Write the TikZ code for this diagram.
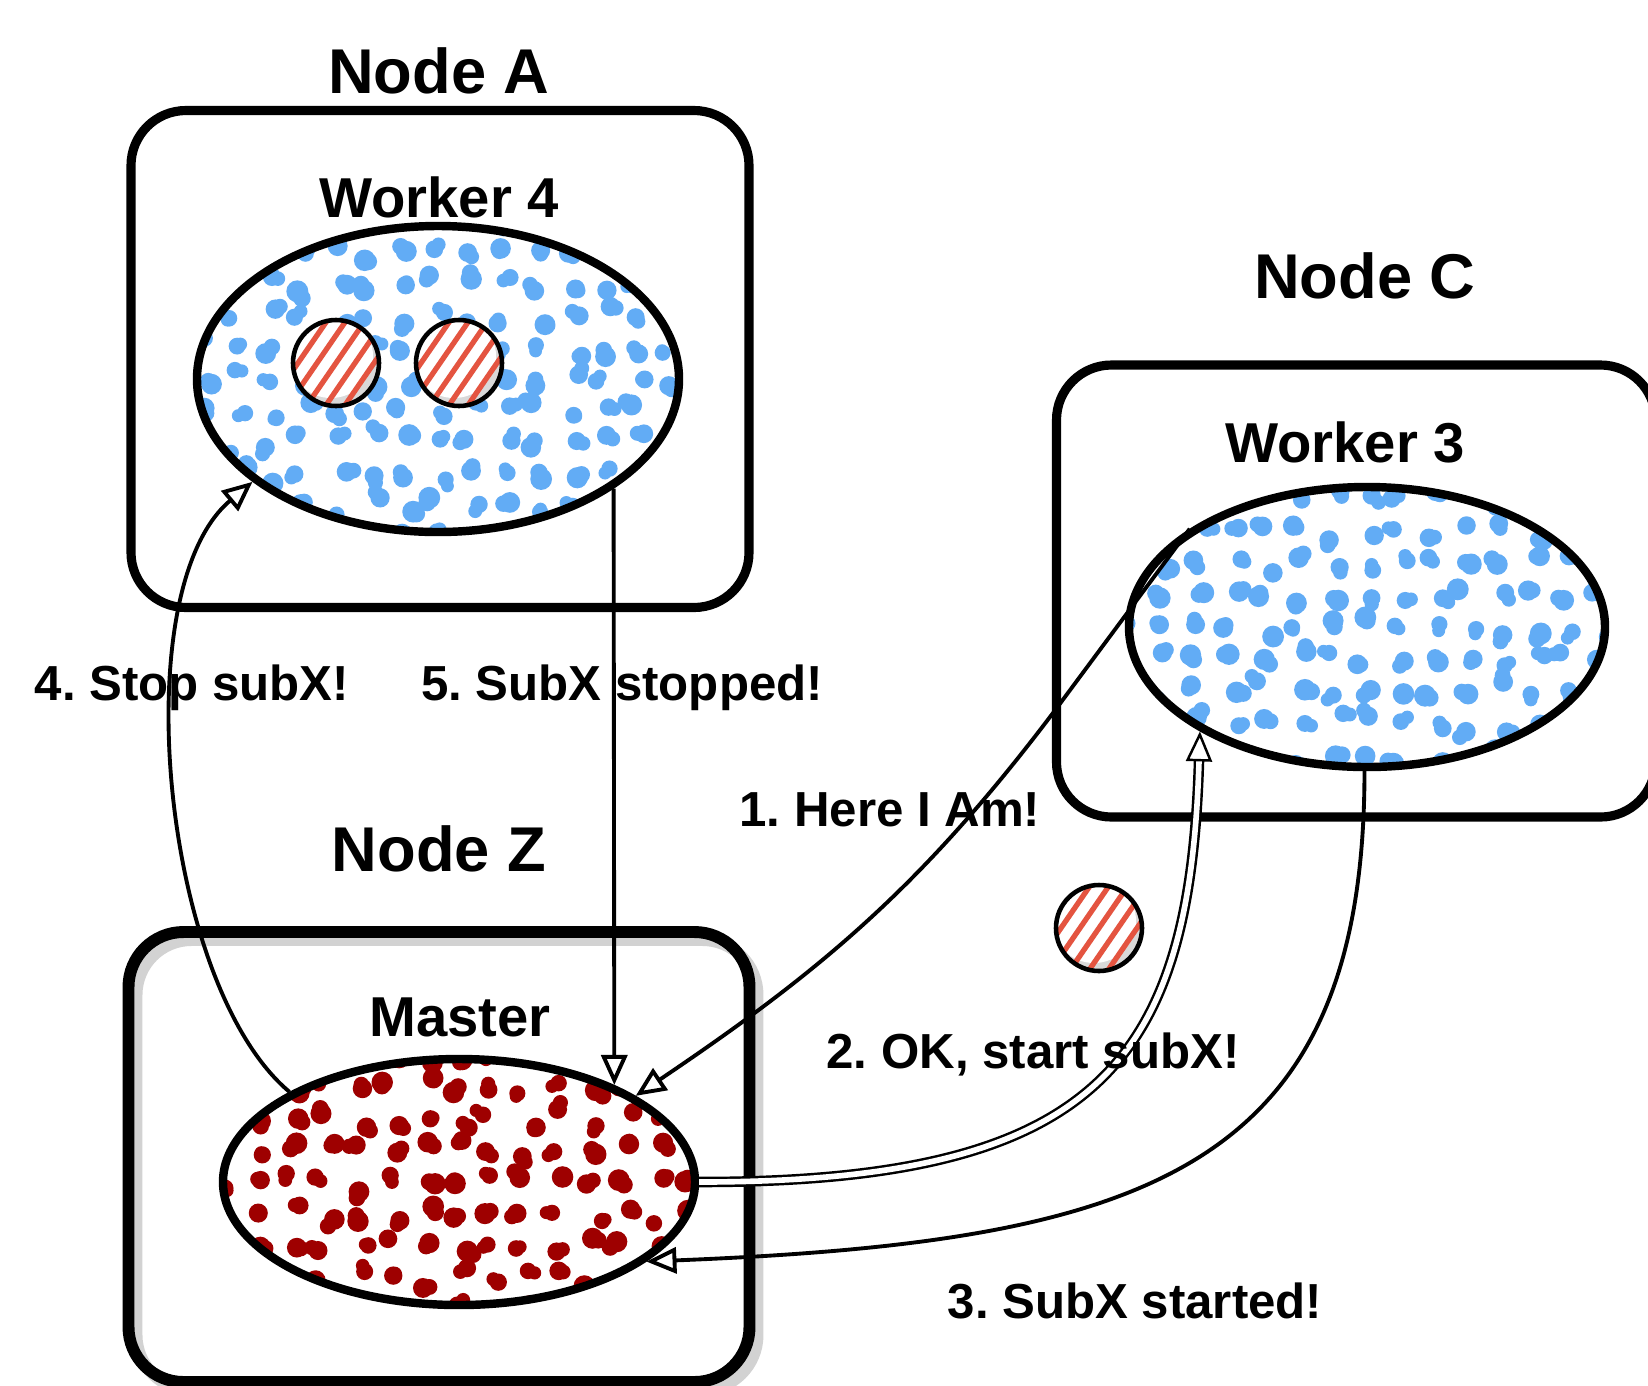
\documentclass[tikz,border=0pt]{standalone}
\usepackage{fontspec}
\setmainfont{Liberation Sans}
\usepackage{xcolor}
\usepackage{tikz}
\usetikzlibrary{positioning, arrows.meta, shapes.geometric}
\frenchspacing

\definecolor{dotblue}{RGB}{98,172,245}
\definecolor{dotred}{RGB}{158,0,0}
\definecolor{hatchred}{RGB}{228,84,64}

\newcommand{\sprinkle}[1]{% blobs inside a worker, #1 = colour
  \foreach \gx in {-7,...,7}
    \foreach \gy in {-5,...,5} {
      \pgfmathsetmacro{\px}{\gx*0.335+0.10*rand}
      \pgfmathsetmacro{\py}{\gy*0.32+0.10*rand}
      \pgfmathsetmacro{\ra}{0.08+0.03*rnd}
      \pgfmathsetmacro{\rb}{0.8*\ra}
      \pgfmathsetmacro{\qx}{\px+0.07*rand}
      \pgfmathsetmacro{\qy}{\py+0.07*rand}
      \fill [#1, shift={(path picture bounding box.center)}] (\px,\py) circle (\ra) (\qx,\qy) circle (\rb);
    }}
\newcommand{\hatching}{% red strokes inside a token
  \fill [white] ([shift={(-0.05,0.07)}]path picture bounding box.center) circle (0.42);
  \foreach \k in {-4,...,4}
    \draw [hatchred, line width=1.5pt] ([shift={(\k*0.19-0.55,-0.8)}]path picture bounding box.center) -- ++(1.1,1.6);}

\begin{document}
\begin{tikzpicture}[
    box/.style={draw, rounded corners=0.55cm, line width=2.6pt, inner sep=0pt},
    worker/.style={ellipse, draw, line width=2.4pt, fill=white, inner sep=0pt},
    token/.style={circle, draw, line width=1.3pt, fill=gray!30, minimum size=0.86cm, inner sep=0pt, path picture={\hatching}},
    title/.style={font=\bfseries\fontsize{18}{21}\selectfont},
    wlabel/.style={font=\bfseries\fontsize{16}{19}\selectfont},
    msg/.style={font=\bfseries\fontsize{14}{17}\selectfont},
    link/.style={line width=1.1pt, -{Triangle[open, length=0.3cm, width=0.26cm]}},
  ]
  \pgfmathsetseed{7}
  \useasboundingbox [fill=white] (0,0) rectangle (16.48,-13.85);   % canvas

  % Node A
  \node [box, minimum width=6.18cm, minimum height=4.97cm] (boxA) at (4.40,-3.59) {};
  \node [title] (nodeA) at (4.39,-0.71) {Node A};
  \node [wlabel] (labW4) at (4.39,-1.97) {Worker 4};
  \node [worker, minimum width=4.82cm, minimum height=3.06cm, path picture={\sprinkle{dotblue}}] (w4) at (4.38,-3.79) {};
  \node [token] (tokA) at (3.36,-3.63) {};   % two subX inside worker 4
  \node [token] (tokB) at (4.59,-3.63) {};

  % Node C
  \node [box, minimum width=5.99cm, minimum height=4.52cm] (boxC) at (13.56,-5.91) {};
  \node [title] (nodeC) at (13.65,-2.76) {Node C};
  \node [wlabel] (labW3) at (13.45,-4.42) {Worker 3};
  \node [worker, minimum width=4.76cm, minimum height=2.80cm, path picture={\sprinkle{dotblue}}] (w3) at (13.67,-6.27) {};

  % Node Z
  \node [box, draw=gray!35, line width=3.4pt, minimum width=6.21cm, minimum height=4.50cm] (boxZshade) at (4.47,-11.65) {};
  \node [box, line width=3.4pt, minimum width=6.21cm, minimum height=4.50cm] (boxZ) at (4.39,-11.57) {};
  \node [title] (nodeZ) at (4.39,-8.49) {Node Z};
  \node [wlabel] (labM) at (4.60,-10.17) {Master};
  \node [worker, minimum width=4.72cm, minimum height=2.46cm, path picture={\sprinkle{dotred}}] (master) at (4.59,-11.82) {};

  \node [token] (tokC) at (10.99,-9.28) {};   % subX on its way

  % messages
  \coordinate (bend) at (10.56,-7.09);
  \draw [link] (w3.151) -- (bend) to [out=233, in=34] (master.26);                                    % 1
  \draw [link, double, double distance=1.6pt, line width=0.7pt] (master.east) .. controls +(4,0) and +(-0.1,-3.3) .. (w3.212);   % 2
  \draw [link] (w3.269) .. controls +(0,-4) and +(5,0.2) .. (master.337);                             % 3
  \draw [link] (master.152) to [out=140, in=220, looseness=0.7] (w4.209);                            % 4
  \draw [link] (w4.328) -- (master.32);                                                               % 5

  \node [msg] (m1) at (8.90,-8.10) {1. Here I Am!};
  \node [msg] (m2) at (10.33,-10.54) {2. OK, start subX!};
  \node [msg] (m3) at (11.35,-13.01) {3. SubX started!};
  \node [msg] (m4) at (1.92,-6.88) {4. Stop subX!};
  \node [msg] (m5) at (6.22,-6.88) {5. SubX stopped!};
\end{tikzpicture}
\end{document}
